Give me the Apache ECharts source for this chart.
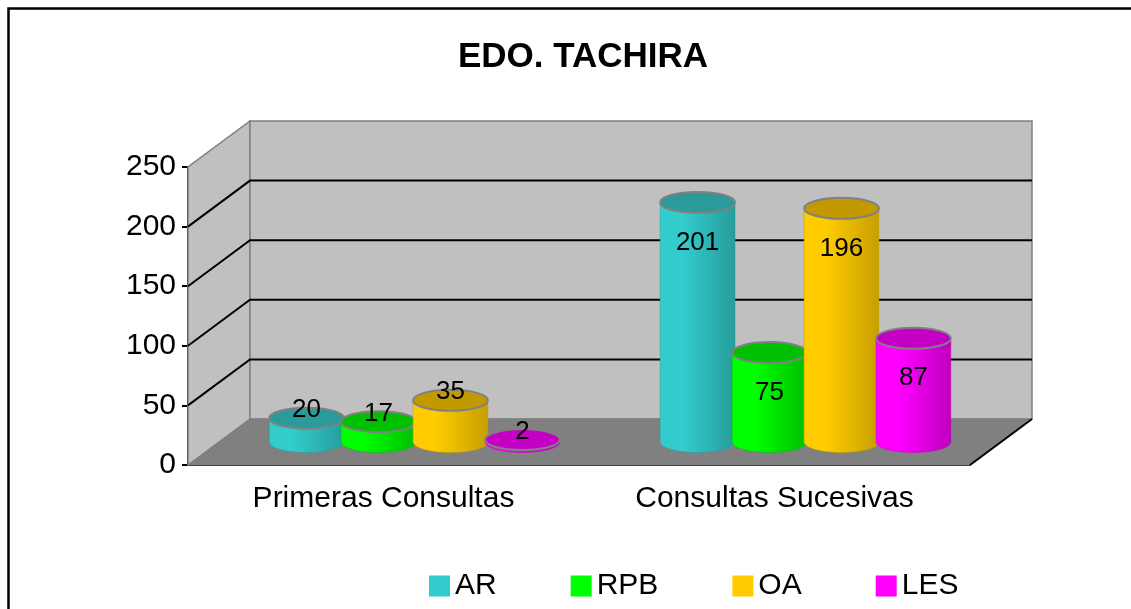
<!DOCTYPE html>
<html>
<head>
<meta charset="utf-8">
<script src="https://cdn.jsdelivr.net/npm/echarts@6/dist/echarts.min.js"></script>
<style>
html, body { margin: 0; padding: 0; background: #fff; }
#chart { width: 1131px; height: 609px; }
</style>
</head>
<body>
<div id="chart"></div>
<script>
var categories = ['Primeras Consultas', 'Consultas Sucesivas'];
var seriesNames = ['AR', 'RPB', 'OA', 'LES'];
var arValues = [20, 201];
var rpbValues = [17, 75];
var oaValues = [35, 196];
var lesValues = [2, 87];
var yTicks = [0, 50, 100, 150, 200, 250];

var FONT = "'Liberation Sans', Arial, sans-serif";
// depth of the fake 3d box, in pixels
var DX = 62, DY = -46;
var K = 0.5523;

// light side, dark side, top
var palette = {
    AR: ['#33CCCC', '#279C9C', '#2A9A9A'],
    RPB: ['#00FF00', '#00BE00', '#00C000'],
    OA: ['#FFCC00', '#C69E00', '#C29A00'],
    LES: ['#FF00FF', '#BE00BE', '#C400C4']
};

function ellipsePath(cx, cy, rx, ry) {
    return 'M' + (cx - rx) + ' ' + cy +
        'C' + (cx - rx) + ' ' + (cy - K * ry) + ' ' + (cx - K * rx) + ' ' + (cy - ry) + ' ' + cx + ' ' + (cy - ry) +
        'C' + (cx + K * rx) + ' ' + (cy - ry) + ' ' + (cx + rx) + ' ' + (cy - K * ry) + ' ' + (cx + rx) + ' ' + cy +
        'C' + (cx + rx) + ' ' + (cy + K * ry) + ' ' + (cx + K * rx) + ' ' + (cy + ry) + ' ' + cx + ' ' + (cy + ry) +
        'C' + (cx - K * rx) + ' ' + (cy + ry) + ' ' + (cx - rx) + ' ' + (cy + K * ry) + ' ' + (cx - rx) + ' ' + cy + 'Z';
}

function bodyPath(cx, yTop, yBot, rx, ry) {
    return 'M' + (cx - rx) + ' ' + yTop + 'L' + (cx - rx) + ' ' + yBot +
        'C' + (cx - rx) + ' ' + (yBot + K * ry) + ' ' + (cx - K * rx) + ' ' + (yBot + ry) + ' ' + cx + ' ' + (yBot + ry) +
        'C' + (cx + K * rx) + ' ' + (yBot + ry) + ' ' + (cx + rx) + ' ' + (yBot + K * ry) + ' ' + (cx + rx) + ' ' + yBot +
        'L' + (cx + rx) + ' ' + yTop + 'Z';
}

// walls, floor and gridlines of the 3d box
function renderFrame(params, api) {
    var cs = params.coordSys;
    var x0 = cs.x, x1 = cs.x + cs.width;
    var yMin = api.coord([0, yTicks[0]])[1];
    var yMax = api.coord([0, yTicks[yTicks.length - 1]])[1];
    var children = [];
    children.push({
        type: 'polygon',
        shape: { points: [[x0, yMin], [x0, yMax], [x0 + DX, yMax + DY], [x0 + DX, yMin + DY]] },
        style: { fill: '#C0C0C0', stroke: '#808080', lineWidth: 1.5 }
    });
    children.push({
        type: 'polygon',
        shape: { points: [[x0 + DX, yMax + DY], [x1 + DX, yMax + DY], [x1 + DX, yMin + DY], [x0 + DX, yMin + DY]] },
        style: { fill: '#C0C0C0', stroke: '#808080', lineWidth: 1.5 }
    });
    children.push({
        type: 'polygon',
        shape: { points: [[x0, yMin], [x0 + DX, yMin + DY], [x1 + DX, yMin + DY], [x1, yMin]] },
        style: { fill: '#808080', stroke: '#808080', lineWidth: 1 }
    });
    children.push({
        type: 'line',
        shape: { x1: x1, y1: yMin, x2: x1 + DX, y2: yMin + DY },
        style: { stroke: '#000', lineWidth: 2 }
    });
    for (var i = 1; i < yTicks.length - 1; i++) {
        var y = api.coord([0, yTicks[i]])[1];
        children.push({
            type: 'polyline',
            shape: { points: [[x0, y], [x0 + DX, y + DY], [x1 + DX, y + DY]] },
            style: { stroke: '#000', lineWidth: 2, fill: null }
        });
    }
    return { type: 'group', children: children };
}

function makeBarSeries(name, idx, values) {
    var cols = palette[name];
    return {
        name: name,
        type: 'custom',
        itemStyle: { color: cols[0] },
        encode: { x: 0, y: 1 },
        data: values.map(function (v, i) { return [i, v]; }),
        renderItem: function (params, api) {
            var cat = api.value(0), val = api.value(1);
            var base = api.coord([cat, 0]);
            var top = api.coord([cat, val]);
            var band = api.size([1, 0])[0];
            var step = band * 0.184;
            var cx = base[0] + (idx - 1.5) * step + DX / 2;
            var yBot = base[1] + DY / 2;
            var yTop = top[1] + DY / 2;
            var rx = step * 0.52, ry = 10.5;
            var grad = new echarts.graphic.LinearGradient(0, 0, 1, 0, [
                { offset: 0, color: cols[0] },
                { offset: 0.3, color: cols[0] },
                { offset: 1, color: cols[1] }
            ]);
            return {
                type: 'group',
                children: [{
                    type: 'path',
                    shape: { pathData: bodyPath(cx, yTop, yBot, rx, ry) },
                    style: { fill: grad, stroke: cols[1], lineWidth: 0.5 }
                }, {
                    type: 'path',
                    shape: { pathData: ellipsePath(cx, yTop, rx, ry) },
                    style: { fill: cols[2], stroke: '#808080', lineWidth: 2 }
                }, {
                    type: 'text',
                    style: {
                        text: String(val),
                        x: cx,
                        y: yTop + (val >= 50 ? 40 : -8),
                        align: 'center',
                        verticalAlign: 'middle',
                        fontSize: 26,
                        fontFamily: FONT,
                        fill: '#000'
                    }
                }]
            };
        }
    };
}

var chart = echarts.init(document.getElementById('chart'));
chart.setOption({
    animation: false,
    backgroundColor: '#fff',
    textStyle: { fontFamily: FONT },
    graphic: [{
        type: 'rect',
        shape: { x: 8.5, y: 8.5, width: 1200, height: 700 },
        style: { fill: 'none', stroke: '#000', lineWidth: 2.5 },
        silent: true
    }],
    title: {
        text: 'EDO. TACHIRA',
        left: 578,
        top: 35,
        textAlign: 'center',
        textStyle: { fontSize: 35, fontWeight: 'bold', color: '#000', fontFamily: FONT }
    },
    legend: {
        data: seriesNames,
        left: 424,
        top: 566,
        icon: 'rect',
        itemWidth: 21,
        itemHeight: 21,
        itemGap: 74,
        textStyle: { fontSize: 30, color: '#000', fontFamily: FONT }
    },
    grid: { left: 188, top: 167, right: 161, bottom: 144 },
    xAxis: {
        type: 'category',
        data: categories,
        axisLine: { lineStyle: { color: '#000', width: 2 } },
        axisTick: { length: 7, lineStyle: { color: '#000', width: 2 } },
        axisLabel: { fontSize: 30, color: '#000', margin: 19, fontFamily: FONT },
        splitLine: { show: false }
    },
    yAxis: {
        type: 'value',
        min: 0,
        max: 250,
        interval: 50,
        axisLine: { show: true, lineStyle: { color: '#000', width: 2 } },
        axisTick: { show: true, length: 6, lineStyle: { color: '#000', width: 2 } },
        axisLabel: { fontSize: 30, color: '#000', margin: 12, fontFamily: FONT },
        splitLine: { show: false }
    },
    series: [{
        type: 'custom',
        silent: true,
        data: [[0, 0]],
        encode: { x: 0, y: 1 },
        renderItem: renderFrame
    },
        makeBarSeries('AR', 0, arValues),
        makeBarSeries('RPB', 1, rpbValues),
        makeBarSeries('OA', 2, oaValues),
        makeBarSeries('LES', 3, lesValues)
    ]
});
</script>
</body>
</html>
